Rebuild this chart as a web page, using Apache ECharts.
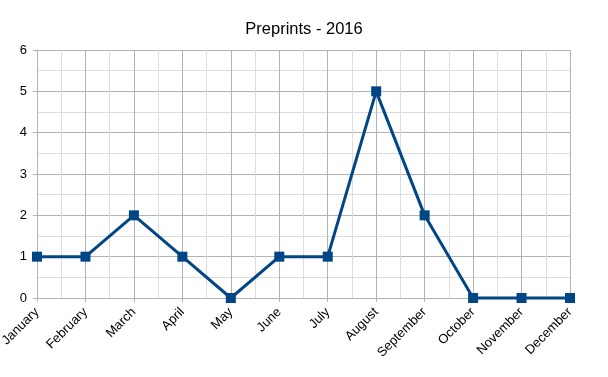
<!DOCTYPE html>
<html>
<head>
<meta charset="utf-8">
<script src="https://cdn.jsdelivr.net/npm/echarts@6/dist/echarts.min.js"></script>
<style>
  html, body { margin: 0; padding: 0; background: #fff; }
  #chart { width: 608px; height: 377px; }
</style>
</head>
<body>
<div id="chart"></div>
<script>
// Preprints per month, 2016
const months = ["January", "February", "March", "April", "May", "June", "July",
  "August", "September", "October", "November", "December"];
const preprints = [1, 1, 2, 1, 0, 1, 1, 5, 2, 0, 0, 0];

const chart = echarts.init(document.getElementById("chart"));
const font = "Liberation Sans";
const major = "#b3b3b3";
const minor = "#dddddd";

chart.setOption({
  animation: false,
  title: {
    text: "Preprints - 2016",
    left: "center",
    top: 16,
    textStyle: { fontFamily: font, fontSize: 16.5, fontWeight: "normal", color: "#000" }
  },
  grid: { left: 37, right: 38, top: 50, bottom: 79, containLabel: false, outerBoundsMode: "none" },
  xAxis: {
    type: "value",
    min: 0,
    max: months.length - 1,
    interval: 1,
    axisLine: { show: true, lineStyle: { color: major } },
    axisTick: { show: true, length: 4, lineStyle: { color: major } },
    minorTick: { show: false, splitNumber: 2 },
    splitLine: { show: true, lineStyle: { color: major } },
    minorSplitLine: { show: true, lineStyle: { color: minor } },
    axisLabel: {
      rotate: 45,
      margin: 12,
      fontFamily: font,
      fontSize: 13,
      color: "#000",
      formatter: (v) => months[v] || ""
    }
  },
  yAxis: {
    type: "value",
    min: 0,
    max: 6,
    interval: 1,
    axisLine: { show: true, lineStyle: { color: major } },
    axisTick: { show: true, length: 4, lineStyle: { color: major } },
    minorTick: { show: false, splitNumber: 2 },
    splitLine: { show: true, lineStyle: { color: major } },
    minorSplitLine: { show: true, lineStyle: { color: minor } },
    axisLabel: { margin: 10, fontFamily: font, fontSize: 13, color: "#000" }
  },
  series: [{
    type: "line",
    data: preprints.map((v, i) => [i, v]),
    symbol: "rect",
    symbolSize: 10,
    lineStyle: { color: "#004586", width: 3 },
    itemStyle: { color: "#004586" },
    clip: false
  }]
});
</script>
</body>
</html>
